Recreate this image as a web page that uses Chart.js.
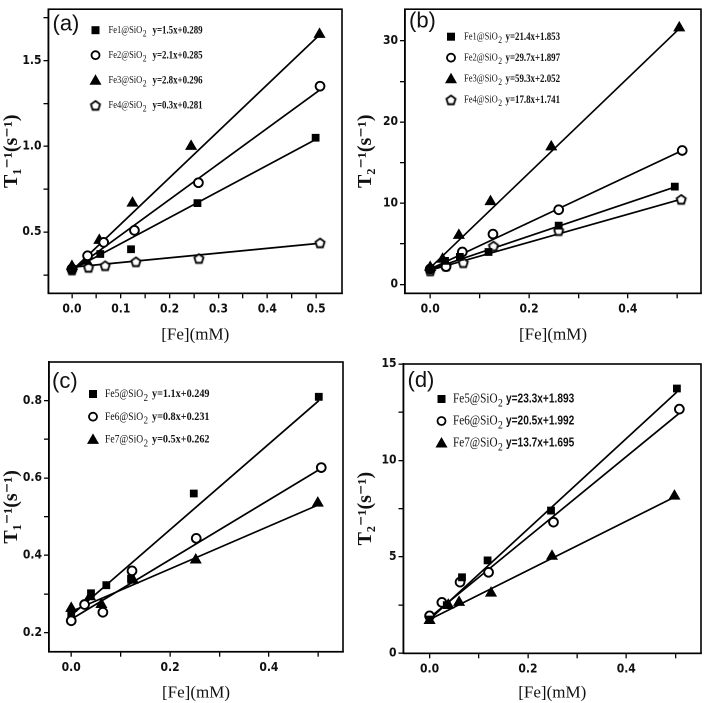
<!DOCTYPE html>
<html><head><meta charset="utf-8">
<script src="https://cdn.jsdelivr.net/npm/chart.js@4.4.1/dist/chart.umd.min.js"></script>
<style>
html,body{margin:0;padding:0;background:#fff;width:708px;height:703px;overflow:hidden}
canvas{position:absolute}
</style></head><body>
<canvas id="ca" style="left:0px;top:0px"></canvas>
<canvas id="cb" style="left:354px;top:0px"></canvas>
<canvas id="cc" style="left:0px;top:350px"></canvas>
<canvas id="cd" style="left:354px;top:350px"></canvas>
<script>
// ---------- DATA ----------
// Panel (a): T1^-1 vs [Fe], Fe1-Fe4
const aFe1X = [0, 0.058, 0.121, 0.257, 0.499];
const aFe1Y = [0.285, 0.372, 0.40, 0.669, 1.05];
const aFe2X = [0, 0.032, 0.065, 0.128, 0.259, 0.508];
const aFe2Y = [0.285, 0.362, 0.44, 0.51, 0.788, 1.351];
const aFe3X = [0, 0.03, 0.056, 0.124, 0.244, 0.507];
const aFe3Y = [0.30, 0.33, 0.452, 0.669, 1.0, 1.653];
const aFe4X = [0, 0.034, 0.068, 0.131, 0.26, 0.508];
const aFe4Y = [0.28, 0.295, 0.305, 0.328, 0.347, 0.438];
const aFitX = [[0, 0.499], [0, 0.508], [0, 0.507], [0, 0.508]];
const aFitY = [[0.28, 1.04], [0.275, 1.33], [0.275, 1.65], [0.295, 0.435]];
const aNames = ["Fe1@SiO", "Fe2@SiO", "Fe3@SiO", "Fe4@SiO"];
const aEqs = ["y=1.5x+0.289", "y=2.1x+0.285", "y=2.8x+0.296", "y=0.3x+0.281"];

// Panel (b): T2^-1 vs [Fe], Fe1-Fe4
const bFe1X = [0, 0.03, 0.06, 0.118, 0.26, 0.495];
const bFe1Y = [1.85, 2.9, 3.4, 4.0, 7.25, 12.05];
const bFe2X = [0, 0.032, 0.065, 0.127, 0.26, 0.51];
const bFe2Y = [1.9, 2.2, 4.0, 6.2, 9.2, 16.5];
const bFe3X = [0, 0.025, 0.058, 0.122, 0.245, 0.504];
const bFe3Y = [2.1, 3.1, 6.05, 10.2, 16.95, 31.6];
const bFe4X = [0, 0.032, 0.067, 0.128, 0.26, 0.508];
const bFe4Y = [1.7, 2.3, 2.7, 4.75, 6.65, 10.5];
const bFitX = [[0, 0.495], [0, 0.51], [0, 0.504], [0, 0.508]];
const bFitY = [[1.85, 12.0], [1.9, 16.5], [2.05, 31.5], [1.75, 10.5]];
const bNames = ["Fe1@SiO", "Fe2@SiO", "Fe3@SiO", "Fe4@SiO"];
const bEqs = ["y=21.4x+1.853", "y=29.7x+1.897", "y=59.3x+2.052", "y=17.8x+1.741"];

// Panel (c): T1^-1 vs [Fe], Fe5-Fe7
const cFe5X = [0, 0.04, 0.071, 0.121, 0.248, 0.501];
const cFe5Y = [0.25, 0.302, 0.323, 0.34, 0.56, 0.81];
const cFe6X = [0, 0.027, 0.064, 0.123, 0.253, 0.506];
const cFe6Y = [0.231, 0.273, 0.253, 0.36, 0.444, 0.627];
const cFe7X = [0, 0.038, 0.061, 0.125, 0.252, 0.499];
const cFe7Y = [0.263, 0.293, 0.273, 0.336, 0.388, 0.535];
const cFitX = [[0, 0.501], [0, 0.506], [0, 0.499]];
const cFitY = [[0.245, 0.80], [0.235, 0.625], [0.255, 0.53]];
const cNames = ["Fe5@SiO", "Fe6@SiO", "Fe7@SiO"];
const cEqs = ["y=1.1x+0.249", "y=0.8x+0.231", "y=0.5x+0.262"];

// Panel (d): T2^-1 vs [Fe], Fe5-Fe7
const dFe5X = [0, 0.035, 0.066, 0.118, 0.247, 0.503];
const dFe5Y = [1.75, 2.5, 3.94, 4.82, 7.4, 13.73];
const dFe6X = [0, 0.025, 0.062, 0.12, 0.252, 0.508];
const dFe6Y = [1.94, 2.64, 3.69, 4.2, 6.8, 12.66];
const dFe7X = [0, 0.038, 0.06, 0.125, 0.249, 0.498];
const dFe7Y = [1.7, 2.5, 2.64, 3.12, 5.03, 8.15];
const dFitX = [[0, 0.503], [0, 0.508], [0, 0.498]];
const dFitY = [[1.75, 13.55], [1.85, 12.45], [1.75, 8.1]];
const dNames = ["Fe5@SiO", "Fe6@SiO", "Fe7@SiO"];
const dEqs = ["y=23.3x+1.893", "y=20.5x+1.992", "y=13.7x+1.695"];

// Tick values / labels
const xMajorA = [0, 0.1, 0.2, 0.3, 0.4, 0.5];
const xLabelsA = ["0.0", "0.1", "0.2", "0.3", "0.4", "0.5"];
const xMinorA = [0.05, 0.15, 0.25, 0.35, 0.45];
const xMajorB = [0, 0.2, 0.4];
const xLabelsB = ["0.0", "0.2", "0.4"];
const xMinorB = [0.1, 0.3, 0.5];
const yMajorA = [0.5, 1.0, 1.5];
const yLabelsA = ["0.5", "1.0", "1.5"];
const yMinorA = [0.25, 0.75, 1.25, 1.75];
const yMajorB = [0, 10, 20, 30];
const yLabelsB = ["0", "10", "20", "30"];
const yMinorB = [5, 15, 25];
const yMajorC = [0.2, 0.4, 0.6, 0.8];
const yLabelsC = ["0.2", "0.4", "0.6", "0.8"];
const yMinorC = [0.3, 0.5, 0.7];
const yMajorD = [0, 5, 10, 15];
const yLabelsD = ["0", "5", "10", "15"];
const yMinorD = [2.5, 7.5, 12.5];

// ---------- STYLE ----------
const TICKFONT = "'Liberation Sans Narrow','DejaVu Sans Condensed','Liberation Sans',sans-serif";
const SERIF = "'Liberation Serif','DejaVu Serif',serif";
const SANS = "'Liberation Sans',Arial,sans-serif";

function pentagonCanvas(r) {
  const s = Math.ceil(r * 2 + 4);
  const cv = document.createElement('canvas');
  cv.width = s; cv.height = s;
  const g = cv.getContext('2d');
  g.beginPath();
  for (let i = 0; i < 5; i++) {
    const ang = -Math.PI / 2 + i * 2 * Math.PI / 5;
    const px = s / 2 + r * Math.cos(ang), py = s / 2 + 0.6 + r * Math.sin(ang);
    if (i === 0) g.moveTo(px, py); else g.lineTo(px, py);
  }
  g.closePath();
  g.fillStyle = '#fff'; g.fill();
  g.lineWidth = 1.8; g.strokeStyle = '#000'; g.stroke();
  return cv;
}
const PENT = pentagonCanvas(4.8);

const MARKERS = {
  square: { pointStyle: 'rect', pointRadius: 4.8, backgroundColor: '#000', borderColor: '#000', borderWidth: 1 },
  circle: { pointStyle: 'circle', pointRadius: 4.4, backgroundColor: '#fff', borderColor: '#000', borderWidth: 1.9 },
  triangle: { pointStyle: 'triangle', pointRadius: 6, backgroundColor: '#000', borderColor: '#000', borderWidth: 1 },
  pentagon: { pointStyle: PENT, pointRadius: 5, backgroundColor: '#fff', borderColor: '#000', borderWidth: 1.8 }
};

function pts(xs, ys) { return xs.map((x, i) => ({ x: x, y: ys[i] })); }

function drawMarker(ctx, kind, x, y) {
  ctx.save();
  ctx.strokeStyle = '#000'; ctx.fillStyle = '#000';
  if (kind === 'square') { ctx.fillRect(x - 4, y - 4, 8, 8); }
  else if (kind === 'circle') { ctx.lineWidth = 1.8; ctx.beginPath(); ctx.arc(x, y, 4, 0, Math.PI * 2); ctx.fillStyle = '#fff'; ctx.fill(); ctx.stroke(); }
  else if (kind === 'triangle') { ctx.beginPath(); ctx.moveTo(x, y - 6); ctx.lineTo(x + 6, y + 4.5); ctx.lineTo(x - 6, y + 4.5); ctx.closePath(); ctx.fill(); }
  else if (kind === 'pentagon') { ctx.drawImage(PENT, x - PENT.width / 2, y - PENT.height / 2); }
  ctx.restore();
}

function makeChart(id, p) {
  const cv = document.getElementById(id);
  const datasets = [];
  p.fitX.forEach((fx, i) => {
    datasets.push({ type: 'line', data: pts(fx, p.fitY[i]), borderColor: '#000', borderWidth: 1.7,
      pointRadius: 0, fill: false, tension: 0, order: 2 });
  });
  p.series.forEach(s => {
    const m = MARKERS[s.marker];
    datasets.push(Object.assign({ type: 'scatter', data: pts(s.x, s.y), showLine: false, order: 1,
      pointHoverRadius: m.pointRadius }, m));
  });
  const lbl = (majors, labels) => (v) => {
    for (let i = 0; i < majors.length; i++) if (Math.abs(majors[i] - v) < 1e-9) return labels[i];
    return '';
  };
  const overlay = {
    id: 'overlay',
    afterDraw(chart) {
      const ctx = chart.ctx, a = chart.chartArea;
      ctx.save();
      ctx.strokeStyle = '#000'; ctx.lineWidth = 1.6;
      ctx.strokeRect(a.left, a.top, a.right - a.left, a.bottom - a.top);
      ctx.fillStyle = '#111';
      ctx.font = '22px ' + SANS;
      ctx.textBaseline = 'middle';
      ctx.fillText(p.letter, a.left + p.letterDx, a.top + p.letterDy);
      p.names.forEach((nm, i) => {
        const y = a.top + p.legY0 + i * p.legDy;
        drawMarker(ctx, p.series[i].marker, a.left + p.legMx, y);
        ctx.save();
        ctx.translate(a.left + p.legTx, y);
        ctx.scale(p.nameSx, 1);
        ctx.fillStyle = '#111';
        ctx.font = p.nameFont;
        ctx.fillText(nm, 0, 0);
        const w = ctx.measureText(nm).width;
        ctx.font = p.subFont;
        ctx.fillText('2', w + 0.5, p.subDy);
        ctx.restore();
        ctx.save();
        ctx.translate(a.left + p.legEx, y);
        ctx.scale(p.eqSx, 1);
        ctx.fillStyle = '#111';
        ctx.font = p.eqFont;
        ctx.fillText(p.eqs[i], 0, 0);
        ctx.restore();
      });
      ctx.restore();
    }
  };
  return new Chart(cv, {
    data: { datasets },
    plugins: [overlay],
    options: {
      responsive: false, animation: false, devicePixelRatio: 2,
      layout: { padding: { top: p.padTop, right: p.padRight, left: 0, bottom: 0 } },
      plugins: { legend: { display: false }, tooltip: { enabled: false } },
      scales: {
        x: {
          type: 'linear', min: p.xmin, max: p.xmax,
          afterBuildTicks: (sc) => { sc.ticks = p.xMajor.concat(p.xMinor).sort((a, b) => a - b).map(v => ({ value: v })); },
          afterFit: (sc) => { sc.height = p.xH; },
          ticks: { callback: lbl(p.xMajor, p.xLabels), color: '#111', font: { family: TICKFONT, size: 12, weight: 'bold' }, padding: 4, maxRotation: 0, autoSkip: false },
          grid: { drawOnChartArea: false, drawTicks: true, tickLength: 5, color: '#000', lineWidth: 1.3 },
          border: { display: true, color: '#000', width: 1.6 },
          title: { display: true, text: '[Fe](mM)', color: '#111', font: { family: SERIF, size: 17 }, padding: { top: 0, bottom: 0 } }
        },
        y: {
          type: 'linear', min: p.ymin, max: p.ymax,
          afterBuildTicks: (sc) => { sc.ticks = p.yMajor.concat(p.yMinor).sort((a, b) => a - b).map(v => ({ value: v })); },
          afterFit: (sc) => { sc.width = p.yW; },
          ticks: { callback: lbl(p.yMajor, p.yLabels), color: '#111', font: { family: TICKFONT, size: 12, weight: 'bold' }, padding: 2, autoSkip: false },
          grid: { drawOnChartArea: false, drawTicks: true, tickLength: 5, color: '#000', lineWidth: 1.3 },
          border: { display: true, color: '#000', width: 1.6 },
          title: { display: true, text: p.yTitle, color: '#111', font: { family: SERIF, size: 20, weight: 'bold' }, padding: { top: 0, bottom: 0 } }
        }
      }
    }
  });
}

function setSize(id, w, h) { const c = document.getElementById(id); c.width = w; c.height = h; c.style.width = w + 'px'; c.style.height = h + 'px'; }
setSize('ca', 354, 345); setSize('cb', 354, 345); setSize('cc', 354, 353); setSize('cd', 354, 353);

const smallSerif = { nameFont: '10px ' + SERIF, subFont: '9px ' + SERIF, eqFont: 'bold 12px ' + SERIF, nameSx: 0.85, eqSx: 0.74, subDy: 4 };

makeChart('ca', Object.assign({
  letter: '(a)', letterDx: 4, letterDy: 15,
  series: [{ x: aFe1X, y: aFe1Y, marker: 'square' }, { x: aFe2X, y: aFe2Y, marker: 'circle' }, { x: aFe3X, y: aFe3Y, marker: 'triangle' }, { x: aFe4X, y: aFe4Y, marker: 'pentagon' }],
  fitX: aFitX, fitY: aFitY, names: aNames, eqs: aEqs,
  legY0: 21, legDy: 25, legMx: 47, legTx: 60, legEx: 104,
  xmin: -0.048, xmax: 0.553, ymin: 0.143, ymax: 1.80,
  xMajor: xMajorA, xLabels: xLabelsA, xMinor: xMinorA,
  yMajor: yMajorA, yLabels: yLabelsA, yMinor: yMinorA,
  yTitle: 'T\u2081\u207B\u00B9(s\u207B\u00B9)',
  padTop: 4, padRight: 12, xH: 51.7, yW: 48.5
}, smallSerif));

makeChart('cb', Object.assign({
  letter: '(b)', letterDx: 4, letterDy: 12,
  series: [{ x: bFe1X, y: bFe1Y, marker: 'square' }, { x: bFe2X, y: bFe2Y, marker: 'circle' }, { x: bFe3X, y: bFe3Y, marker: 'triangle' }, { x: bFe4X, y: bFe4Y, marker: 'pentagon' }],
  fitX: bFitX, fitY: bFitY, names: bNames, eqs: bEqs,
  legY0: 27.5, legDy: 21, legMx: 46, legTx: 59, legEx: 100.5,
  xmin: -0.051, xmax: 0.548, ymin: -1.09, ymax: 33.9,
  xMajor: xMajorB, xLabels: xLabelsB, xMinor: xMinorB,
  yMajor: yMajorB, yLabels: yLabelsB, yMinor: yMinorB,
  yTitle: 'T\u2082\u207B\u00B9(s\u207B\u00B9)',
  padTop: 4, padRight: 5, xH: 51.7, yW: 51
}, smallSerif));

makeChart('cc', Object.assign({
  letter: '(c)', letterDx: 3, letterDy: 20,
  series: [{ x: cFe5X, y: cFe5Y, marker: 'square' }, { x: cFe6X, y: cFe6Y, marker: 'circle' }, { x: cFe7X, y: cFe7Y, marker: 'triangle' }],
  fitX: cFitX, fitY: cFitY, names: cNames, eqs: cEqs,
  legY0: 32, legDy: 22.7, legMx: 44, legTx: 56, legEx: 103,
  xmin: -0.045, xmax: 0.55, ymin: 0.151, ymax: 0.90,
  xMajor: xMajorB, xLabels: xLabelsB, xMinor: xMinorB,
  yMajor: yMajorC, yLabels: yLabelsC, yMinor: yMinorC,
  yTitle: 'T\u2081\u207B\u00B9(s\u207B\u00B9)',
  padTop: 12, padRight: 11, xH: 51.3, yW: 49
}, { nameFont: '12px ' + SERIF, subFont: '11px ' + SERIF, eqFont: 'bold 12px ' + SERIF, nameSx: 0.8, eqSx: 0.85, subDy: 4 }));

makeChart('cd', Object.assign({
  letter: '(d)', letterDx: 4, letterDy: 17,
  series: [{ x: dFe5X, y: dFe5Y, marker: 'square' }, { x: dFe6X, y: dFe6Y, marker: 'circle' }, { x: dFe7X, y: dFe7Y, marker: 'triangle' }],
  fitX: dFitX, fitY: dFitY, names: dNames, eqs: dEqs,
  legY0: 35, legDy: 22, legMx: 38, legTx: 49.5, legEx: 102.5,
  xmin: -0.053, xmax: 0.552, ymin: 0, ymax: 15,
  xMajor: xMajorB, xLabels: xLabelsB, xMinor: xMinorB,
  yMajor: yMajorD, yLabels: yLabelsD, yMinor: yMinorD,
  yTitle: 'T\u2082\u207B\u00B9(s\u207B\u00B9)',
  padTop: 14, padRight: 3, xH: 49.7, yW: 49.5
}, { nameFont: '14px ' + SERIF, subFont: '12px ' + SERIF, eqFont: 'bold 13px ' + SANS, nameSx: 0.8, eqSx: 0.78, subDy: 4.5 }));
</script>
</body></html>
